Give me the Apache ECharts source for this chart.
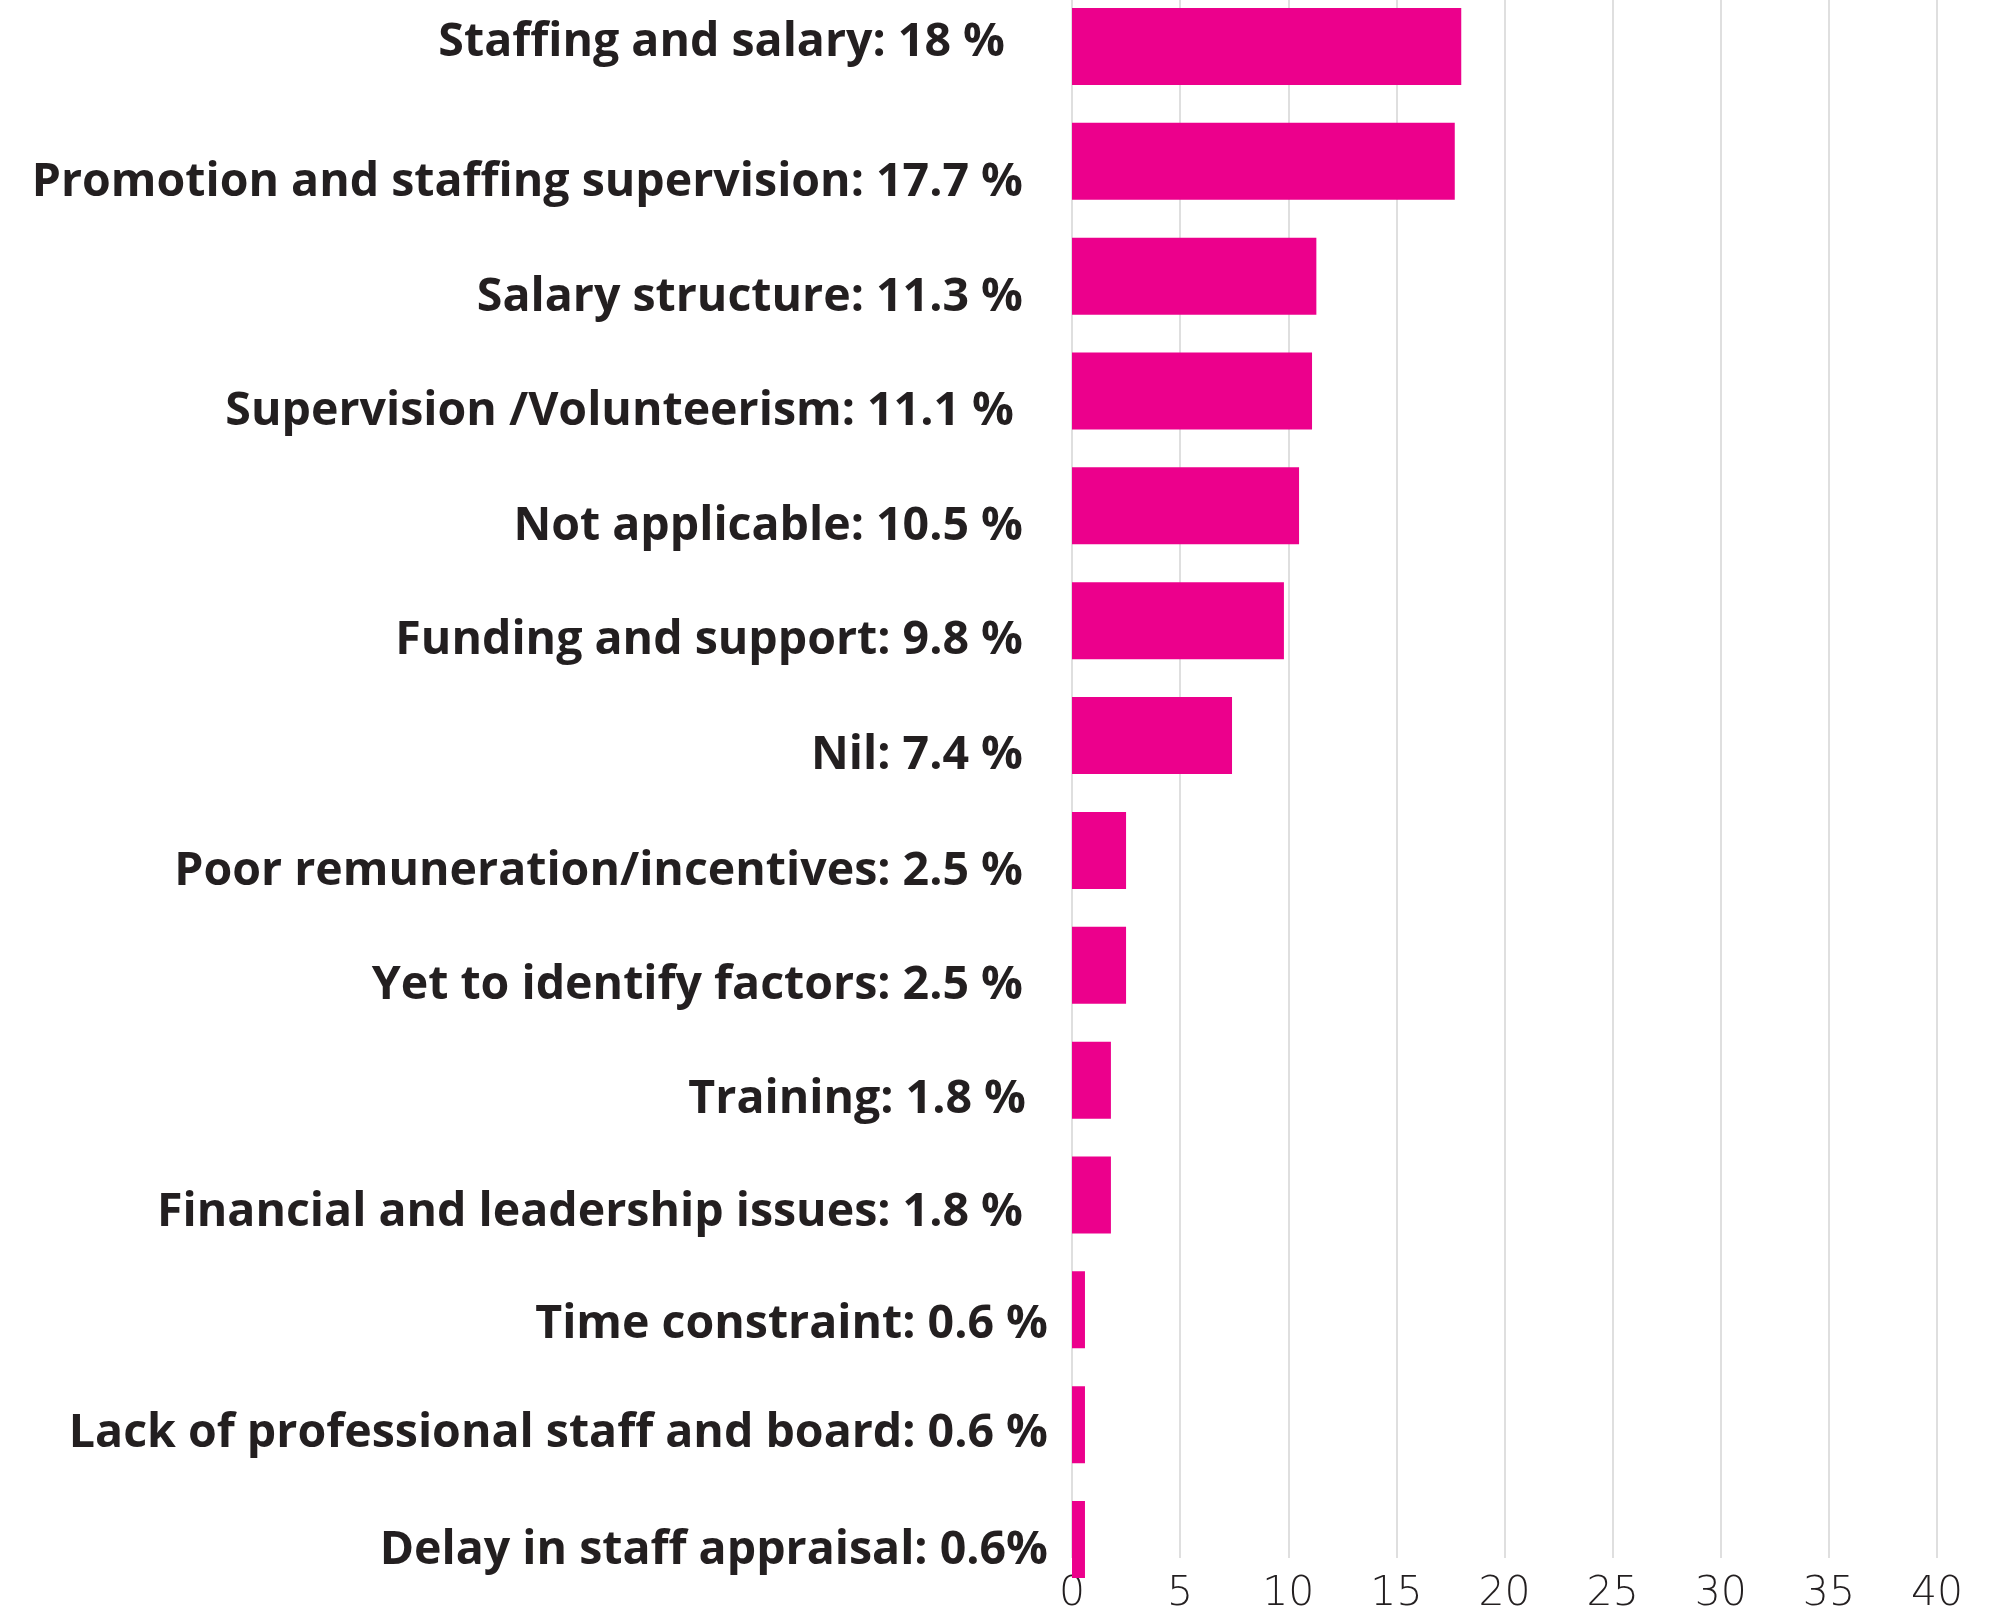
<!DOCTYPE html>
<html>
<head>
<meta charset="utf-8">
<style>
  html, body { margin: 0; padding: 0; background: #ffffff; overflow: hidden; }
  body { position: relative; width: 2008px; height: 1615px; }
  /* canvas starts slightly above the page so the first band can sit flush at the top */
  #chart { position: absolute; left: 0; top: -11px; width: 2008px; height: 1626px; }
</style>
<script src="https://cdn.jsdelivr.net/npm/echarts@6/dist/echarts.min.js"></script>
</head>
<body>
<div id="chart"></div>
<script>
// Reported factors, top to bottom
const categories = [
  'Staffing and salary: 18 %',
  'Promotion and staffing supervision: 17.7 %',
  'Salary structure: 11.3 %',
  'Supervision /Volunteerism: 11.1 %',
  'Not applicable: 10.5 %',
  'Funding and support: 9.8 %',
  'Nil: 7.4 %',
  'Poor remuneration/incentives: 2.5 %',
  'Yet to identify factors: 2.5 %',
  'Training: 1.8 %',
  'Financial and leadership issues: 1.8 %',
  'Time constraint: 0.6 %',
  'Lack of professional staff and board: 0.6 %',
  'Delay in staff appraisal: 0.6%'
];
// Share of responses (%)
const values = [18, 17.7, 11.3, 11.1, 10.5, 9.8, 7.4, 2.5, 2.5, 1.8, 1.8, 0.6, 0.6, 0.6];
// Value-axis ticks
const xTicks = [0, 5, 10, 15, 20, 25, 30, 35, 40];

// Label layout: extra space to the right of each category label, and its
// vertical nudge (px, positive = down) relative to the bar centre
const labelPadRight = [43, 25, 25, 34, 25, 25, 25, 25, 25, 22, 25, 0, 0, 0];
const labelNudgeY = [-4, 21, 22, 21, 21, 20, 20, 21, 20, 20, 18, 15, 9, 11];

const rich = {};
labelPadRight.forEach(function (p, i) {
  const n = labelNudgeY[i];
  rich['r' + i] = { padding: [Math.max(n, 0) * 2, p, Math.max(-n, 0) * 2, 0] };
});

const chart = echarts.init(document.getElementById('chart'), null, { renderer: 'canvas' });

const xMin = xTicks[0];
const xMax = xTicks[xTicks.length - 1];
const xStep = xTicks[1] - xTicks[0];

chart.setOption({
  backgroundColor: '#ffffff',
  animation: false,
  grid: [
    // bars and category labels
    { left: 1072, right: 71, top: 0, bottom: 18, containLabel: false },
    // vertical grid lines and value-axis labels
    { left: 1072, right: 71, top: 11, bottom: 50, containLabel: false }
  ],
  xAxis: [
    {
      gridIndex: 0, type: 'value', min: xMin, max: xMax, interval: xStep,
      show: false, splitLine: { show: false }
    },
    {
      gridIndex: 1, type: 'value', min: xMin, max: xMax, interval: xStep,
      axisLine: { show: false },
      axisTick: { show: false },
      splitLine: { show: true, showMinLine: true, showMaxLine: true, lineStyle: { color: '#d4d4d4', width: 1.5 } },
      axisLabel: {
        margin: 16,
        fontFamily: 'DejaVu Sans',
        fontWeight: 200,
        fontSize: 41,
        color: '#231f20',
        formatter: function (v) { return String(v); }
      }
    }
  ],
  yAxis: [
    {
      gridIndex: 0, type: 'category', inverse: true, data: categories,
      axisLine: { show: false },
      axisTick: { show: false },
      splitLine: { show: false },
      axisLabel: {
        margin: 24,
        fontFamily: 'Open Sans',
        fontWeight: 700,
        fontSize: 46.5,
        color: '#231f20',
        align: 'right',
        formatter: function (v, i) { return '{r' + i + '|' + v + '}'; },
        rich: rich
      }
    },
    { gridIndex: 1, type: 'value', min: 0, max: 1, show: false }
  ],
  series: [
    {
      type: 'bar',
      xAxisIndex: 0,
      yAxisIndex: 0,
      data: values,
      barWidth: 77,
      itemStyle: { color: '#ec008c' },
      label: { show: false }
    }
  ]
});
</script>
</body>
</html>
